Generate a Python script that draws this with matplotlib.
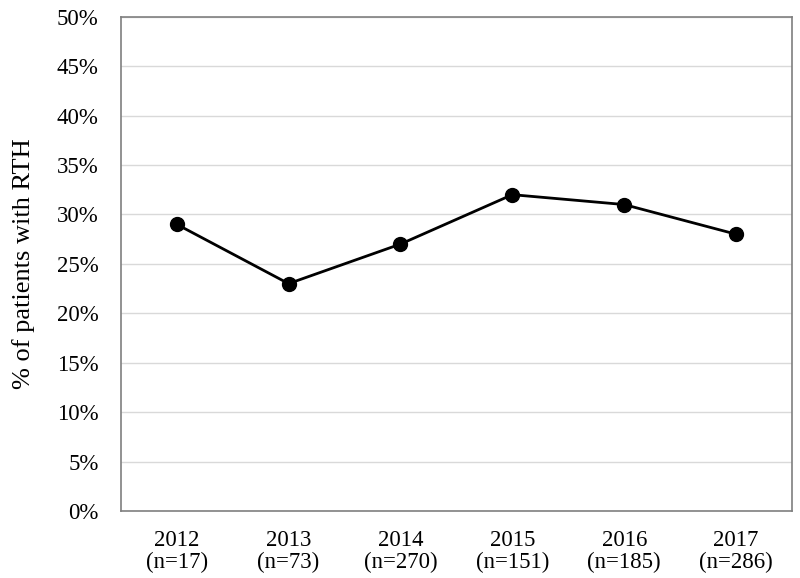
import numpy as np
import matplotlib.pyplot as plt
from matplotlib.ticker import PercentFormatter

plt.rcParams['font.family'] = ['Liberation Serif', 'DejaVu Serif']

# data
years = ['2012', '2013', '2014', '2015', '2016', '2017']
counts = [17, 73, 270, 151, 185, 286]
pct_rth = [29, 23, 27, 32, 31, 28]

labels = [f'{y}\n(n={n})' for y, n in zip(years, counts)]
x = np.arange(len(years)) + 0.5

fig = plt.figure(figsize=(8, 5.78), dpi=100)
ax = fig.add_axes([0.151, 0.116, 0.839, 0.855])

ax.plot(x, pct_rth, color='black', lw=2, marker='o', ms=10, zorder=3)

ax.set_xlim(0, len(years))
ax.set_ylim(0, 50)
ax.set_yticks(np.arange(0, 51, 5))
ax.yaxis.set_major_formatter(PercentFormatter(decimals=0))
ax.set_xticks(x)
ax.set_xticklabels(labels, linespacing=1.05)
ax.tick_params(length=0, labelsize=16.5)
ax.tick_params(axis='x', pad=14)
ax.tick_params(axis='y', pad=16)
ax.grid(axis='y', color='#d9d9d9', lw=1)
ax.set_axisbelow(True)
for s in ax.spines.values():
    s.set_color('#7f7f7f')
    s.set_linewidth(1.2)

ax.set_ylabel('% of patients with RTH', fontsize=19)
ax.yaxis.set_label_coords(-0.128, 0.5)

fig.savefig('out.png', dpi=100)
